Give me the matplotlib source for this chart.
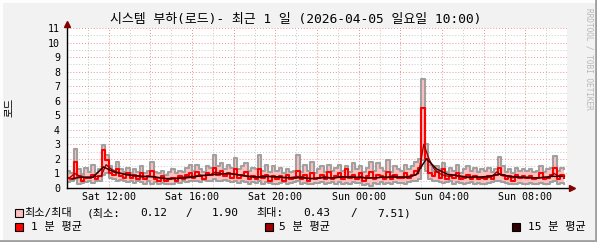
import numpy as np
import matplotlib
matplotlib.use("Agg")
from matplotlib import pyplot as plt
from matplotlib.patches import Rectangle
from matplotlib.lines import Line2D

W, H = 597, 242
FONT = ['DejaVu Sans Mono', 'Noto Sans CJK KR']

title = "시스템 부하(로드)- 최근 1 일 (2026-04-05 일요일 10:00)"
ylabel = "로드"
xtick_hours = [2, 6, 10, 14, 18, 22]
xtick_labels = ["Sat 12:00", "Sat 16:00", "Sat 20:00", "Sun 00:00", "Sun 04:00", "Sun 08:00"]

# 10 minute samples, hours from Sat 10:00 (one row per hour)
hi = [1.2, 1.0, 2.7, 1.3, 0.9, 1.4,
      1.1, 1.6, 1.0, 1.3, 2.95, 2.3,
      1.5, 1.2, 1.8, 1.3, 1.1, 1.4,
      1.0, 1.3, 1.1, 1.5, 1.0, 1.2,
      1.8, 1.1, 1.0, 1.2, 0.9, 1.1,
      1.3, 1.0, 1.2, 1.1, 1.4, 1.6,
      1.2, 1.6, 1.3, 1.1, 1.5, 1.4,
      2.3, 1.5, 1.7, 1.3, 1.6, 1.4,
      2.05, 1.3, 1.5, 1.7, 1.2, 1.4,
      1.3, 2.3, 1.2, 1.6, 1.1, 1.5,
      1.2, 1.4, 1.0, 1.3, 1.1, 1.2,
      2.3, 1.1, 1.6, 1.2, 1.8, 1.0,
      1.3, 1.5, 1.1, 1.6, 1.2, 1.4,
      1.6, 1.2, 1.5, 1.1, 1.7, 1.3,
      1.5, 1.1, 1.4, 1.8, 1.2, 1.7,
      1.4, 1.2, 1.9, 1.1, 1.5, 1.3,
      1.2, 1.6, 1.3, 1.5, 1.8, 2.0,
      7.51, 3.0, 1.6, 1.2, 1.5, 1.3,
      1.7, 1.1, 1.4, 1.2, 1.6, 1.0,
      1.3, 1.5, 1.2, 1.4, 1.1, 1.3,
      1.2, 1.4, 1.1, 1.3, 2.1, 1.5,
      1.1, 1.3, 1.0, 1.4, 1.2, 1.3,
      1.2, 1.3, 1.1, 1.2, 1.5, 1.1,
      1.3, 1.4, 2.2, 1.2, 1.4, 1.3]
lo = [0.4, 0.5, 0.6, 0.3, 0.35, 0.4,
      0.45, 0.35, 0.5, 0.45, 0.9, 1.0,
      0.7, 0.6, 0.5, 0.55, 0.45, 0.4,
      0.5, 0.35, 0.45, 0.4, 0.3, 0.45,
      0.3, 0.4, 0.25, 0.35, 0.3, 0.25,
      0.3, 0.4, 0.35, 0.45, 0.4, 0.5,
      0.45, 0.5, 0.4, 0.55, 0.5, 0.45,
      0.6, 0.5, 0.45, 0.55, 0.5, 0.4,
      0.5, 0.35, 0.45, 0.4, 0.3, 0.4,
      0.35, 0.45, 0.3, 0.4, 0.35, 0.3,
      0.3, 0.35, 0.4, 0.3, 0.35, 0.4,
      0.45, 0.3, 0.35, 0.25, 0.3, 0.35,
      0.35, 0.4, 0.3, 0.35, 0.4, 0.3,
      0.4, 0.3, 0.35, 0.3, 0.4, 0.35,
      0.35, 0.2, 0.3, 0.12, 0.35, 0.3,
      0.4, 0.3, 0.35, 0.3, 0.4, 0.35,
      0.35, 0.3, 0.4, 0.45, 0.5, 0.6,
      1.9, 1.2, 0.6, 0.5, 0.45, 0.4,
      0.35, 0.4, 0.45, 0.3, 0.4, 0.35,
      0.3, 0.35, 0.4, 0.3, 0.35, 0.3,
      0.3, 0.35, 0.4, 0.45, 0.5, 0.4,
      0.35, 0.3, 0.25, 0.3, 0.35, 0.3,
      0.3, 0.35, 0.25, 0.3, 0.35, 0.3,
      0.3, 0.4, 0.45, 0.3, 0.35, 0.3]
avg1 = [0.7, 0.6, 1.8, 0.8, 0.5, 0.7,
        0.7, 0.9, 0.6, 0.8, 2.6, 1.9,
        1.0, 0.9, 1.3, 0.8, 0.7, 1.0,
        0.7, 0.9, 0.6, 1.0, 0.6, 0.8,
        1.2, 0.6, 0.5, 0.8, 0.5, 0.6,
        0.7, 0.5, 0.8, 0.6, 0.9, 1.0,
        0.7, 1.1, 0.8, 0.6, 1.0, 0.9,
        1.4, 0.9, 1.2, 0.8, 1.0, 0.7,
        1.3, 0.7, 0.9, 1.1, 0.6, 0.8,
        0.6, 1.3, 0.7, 0.9, 0.5, 0.8,
        0.6, 0.8, 0.5, 0.9, 0.6, 0.7,
        1.2, 0.6, 0.9, 0.5, 1.0, 0.6,
        0.7, 0.9, 0.6, 1.1, 0.6, 0.8,
        1.0, 0.6, 1.3, 0.7, 0.9, 0.6,
        1.0, 0.5, 0.8, 1.1, 0.6, 0.9,
        0.8, 0.6, 1.1, 0.6, 0.9, 0.7,
        0.7, 1.0, 0.7, 0.9, 1.2, 1.4,
        5.5, 2.0, 1.0, 0.8, 1.1, 0.7,
        1.3, 0.6, 0.9, 0.7, 1.0, 0.6,
        0.7, 0.9, 0.6, 0.8, 0.6, 0.7,
        0.6, 0.8, 0.6, 0.9, 1.4, 0.9,
        0.6, 0.8, 0.5, 0.9, 0.7, 0.8,
        0.7, 0.8, 0.6, 0.7, 1.0, 0.6,
        0.7, 0.9, 1.4, 0.6, 0.9, 0.7]
# 15 minute samples
avg5 = [0.7, 1.0, 0.8, 0.7,  0.7, 0.8, 0.8, 1.6,  1.3, 1.1, 1.0, 0.9,  0.85, 0.8, 0.75, 0.8,
        0.8, 0.7, 0.65, 0.6,  0.65, 0.7, 0.75, 0.8,  0.8, 0.9, 0.85, 0.9,  1.1, 1.0, 0.95, 1.0,
        0.95, 0.85, 0.8, 0.75,  0.7, 0.85, 0.8, 0.75,  0.75, 0.7, 0.7, 0.75,  0.8, 0.75, 0.65, 0.65,
        0.7, 0.8, 0.7, 0.7,  0.8, 0.75, 0.8, 0.7,  0.8, 0.65, 0.7, 0.7,  0.75, 0.7, 0.85, 0.75,
        0.75, 0.7, 0.85, 1.0,  3.0, 2.0, 1.3, 1.0,  0.85, 0.8, 0.9, 0.75,  0.75, 0.7, 0.8, 0.7,
        0.7, 0.75, 1.1, 0.85,  0.8, 0.7, 0.75, 0.7,  0.75, 0.7, 0.7, 0.75,  0.7, 1.0, 0.8, 0.8]
# 30 minute samples
avg15 = [0.65, 0.75,  0.75, 1.45,  1.1, 0.95,  0.85, 0.8,  0.75, 0.65,  0.65, 0.7,
         0.8, 0.9,  0.95, 1.0,  0.9, 0.8,  0.75, 0.8,  0.75, 0.7,  0.7, 0.65,
         0.7, 0.7,  0.75, 0.75,  0.7, 0.7,  0.75, 0.75,  0.75, 0.9,  2.0, 1.3,
         0.95, 0.85,  0.75, 0.75,  0.8, 0.95,  0.8, 0.75,  0.7, 0.7,  0.8, 0.8]

t10 = np.arange(len(hi)) / 6
t15 = np.arange(len(avg5)) * 0.25 + 0.125
t30 = np.arange(len(avg15)) * 0.5 + 0.25

fig = plt.figure(figsize=(W / 100, H / 100), dpi=100)
fig.patch.set_facecolor('#F2F2F2')

def fx(x):
    return x / W

def fy(y):
    return 1 - y / H

# frame bevel
for (x0, y0, x1, y1, c) in [(0, 1, W, 1, '#FFFFFF'), (1, 0, 1, H, '#FFFFFF'),
                            (0, H - 1, W, H - 1, '#A0A0A0'), (W - 1, 0, W - 1, H, '#A0A0A0')]:
    fig.add_artist(Line2D([fx(x0), fx(x1)], [fy(y0), fy(y1)], color=c, lw=2,
                          transform=fig.transFigure))

ax = fig.add_axes([fx(67), fy(188), fx(500), 160 / H])
ax.set_xlim(0, 24)
ax.set_ylim(0, 11)
for s in ax.spines.values():
    s.set_visible(False)

for h in range(1, 25):
    c = '#F09090' if h % 2 == 0 else '#C8C8C8'
    ax.axvline(h, color=c, lw=0.7, ls=(0, (1, 2)), zorder=1)
for v in np.arange(0.5, 11.01, 0.5):
    c = '#F09090' if v % 1 == 0 else '#C8C8C8'
    ax.axhline(v, color=c, lw=0.7, ls=(0, (1, 2)), zorder=1)

ax.fill_between(t10, lo, hi, step='post', color='#FFC0C0', lw=0, zorder=2)
ax.step(t10, hi, where='post', color='#A0A0A0', lw=1.5, zorder=3)
ax.step(t10, lo, where='post', color='#A0A0A0', lw=1.5, zorder=3)
ax.step(t10, avg1, where='post', color='#FF0000', lw=1.5, zorder=4)
ax.plot(t15, avg5, color='#A00000', lw=1.0, zorder=5)
ax.plot(t30, avg15, color='#300000', lw=1.1, zorder=6)

# axes with arrows
ax.plot([0, 0], [0, 11.3], color='black', lw=1, clip_on=False, zorder=7)
ax.plot([0, 24.1], [0, 0], color='black', lw=1, clip_on=False, zorder=7)
ax.plot(0, 11.3, marker='^', color='#800000', ms=4, clip_on=False, zorder=8)
ax.plot(24.25, 0, marker='>', color='#800000', ms=4, clip_on=False, zorder=8)

ax.set_yticks(range(0, 12))
ax.set_xticks(xtick_hours)
ax.set_xticklabels(xtick_labels)
ax.tick_params(length=0)
ax.tick_params(axis='y', pad=5)
ax.tick_params(axis='x', pad=3)
for lab in ax.get_xticklabels() + ax.get_yticklabels():
    lab.set_family(FONT)
    lab.set_fontsize(7.2)

fig.text(fx(296), fy(19), title, family=FONT, fontsize=9.3, ha='center', va='center')
fig.text(fx(10), fy(107), ylabel, family=FONT, fontsize=7.5, ha='center', va='center',
         rotation=90)
fig.text(fx(589), fy(59), "RRDTOOL / TOBI OETIKER", family=FONT, fontsize=5.6,
         color='#B8B8B8', ha='center', va='center', rotation=270)

# legend
def square(x, y, c):
    fig.add_artist(Rectangle((fx(x), fy(y + 8)), 8 / W, 8 / H, facecolor=c,
                             edgecolor='black', lw=0.8, transform=fig.transFigure))

def label(x, y, s):
    fig.text(fx(x), fy(y), s, family=FONT, fontsize=8, ha='left', va='center')

square(15, 209, '#FFC0C0')
for x, s in [(24, "최소/최대"), (87, "(최소:"), (140, "0.12"), (185, "/"), (212, "1.90"),
             (256, "최대:"), (303, "0.43"), (350, "/"), (377, "7.51)")]:
    label(x, 213, s)
square(15, 223, '#FF0000')
label(31, 227, "1 분 평균")
square(265, 223, '#A00000')
label(279, 227, "5 분 평균")
square(512, 223, '#300000')
label(528, 227, "15 분 평균")

fig.savefig("out.png", dpi=100, facecolor=fig.get_facecolor())
